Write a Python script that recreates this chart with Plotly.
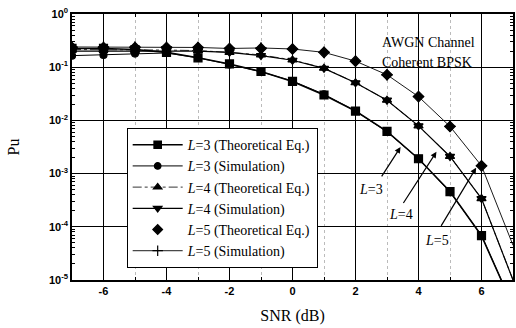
import plotly.graph_objects as go

snr = [-7, -6, -5, -4, -3, -2, -1, 0, 1, 2, 3, 4, 5, 6, 7]

l3_theory = [0.225, 0.225, 0.215, 0.19, 0.15, 0.115, 0.083, 0.054, 0.030, 0.015, 0.0062, 0.0019, 4.6e-4, 6.8e-5, 3.2e-6]
l3_sim    = [0.165, 0.17, 0.18, 0.185, 0.15, 0.113, 0.082, 0.055, 0.031, 0.015, 0.0061, 0.0019, 4.5e-4, 6.9e-5, 3.2e-6]
l4_theory = [0.215, 0.215, 0.21, 0.21, 0.205, 0.19, 0.17, 0.137, 0.096, 0.051, 0.024, 0.0079, 0.0021, 3.4e-4, 1.0e-5]
l4_sim    = [0.2, 0.2, 0.2, 0.205, 0.2, 0.19, 0.165, 0.135, 0.095, 0.051, 0.024, 0.0079, 0.0021, 3.4e-4, 1.0e-5]
l5_theory = [0.235, 0.235, 0.235, 0.235, 0.235, 0.225, 0.225, 0.22, 0.19, 0.13, 0.072, 0.028, 0.0077, 1.4e-3, 4.5e-5]
l5_sim    = [0.24, 0.24, 0.24, 0.24, 0.235, 0.225, 0.23, 0.22, 0.19, 0.13, 0.072, 0.028, 0.0077, 1.4e-3, 4.5e-5]

x_tickvals = [-6, -4, -2, 0, 2, 4, 6]
x_ticktext = ["-6", "-4", "-2", "0", "2", "4", "6"]
y_tickvals = [1, 0.1, 0.01, 1e-3, 1e-4, 1e-5]
y_ticktext = ["10<sup>0</sup>", "10<sup>-1</sup>", "10<sup>-2</sup>", "10<sup>-3</sup>", "10<sup>-4</sup>", "10<sup>-5</sup>"]

names = ["<i>L</i>=3 (Theoretical Eq.)", "<i>L</i>=3 (Simulation)",
         "<i>L</i>=4 (Theoretical Eq.)", "<i>L</i>=4 (Simulation)",
         "<i>L</i>=5 (Theoretical Eq.)", "<i>L</i>=5 (Simulation)"]

fig = go.Figure()
series = [
    (l3_theory, names[0], "lines+markers", "square", 8, 1.6, "solid"),
    (l3_sim, names[1], "lines+markers", "circle", 7, 1.0, "solid"),
    (l4_theory, names[2], "lines+markers", "triangle-up", 8, 0.8, "dashdot"),
    (l4_sim, names[3], "lines+markers", "triangle-down", 8, 1.2, "solid"),
    (l5_theory, names[4], "markers", "diamond", 8, 1.0, "solid"),
    (l5_sim, names[5], "lines+markers", "cross-thin", 8, 0.9, "solid"),
]
for ys, nm, mode, sym, sz, lw, dash in series:
    # the last (edge) point is drawn only as part of the line, like the reference
    sizes = [sz] * (len(snr) - 1) + [0]
    fig.add_trace(go.Scatter(
        x=snr, y=ys, name=nm, mode=mode,
        line=dict(color="black", width=lw, dash=dash),
        marker=dict(symbol=sym, size=sizes, color="black", opacity=1,
                    line=dict(color="black", width=1.2)),
    ))

serif = "Liberation Serif, Times New Roman, serif"
sans = "Liberation Sans, Arial, sans-serif"

fig.update_layout(
    width=516, height=328,
    margin=dict(l=72, r=1, t=14, b=48),
    paper_bgcolor="white", plot_bgcolor="white",
    font=dict(family=sans, size=11, color="black"),
    showlegend=True,
    legend=dict(
        x=0.124, y=0.571, xanchor="left", yanchor="top",
        bgcolor="white", bordercolor="black", borderwidth=1,
        font=dict(family=serif, size=14, color="black"),
        itemwidth=50, tracegroupgap=0,
    ),
    xaxis=dict(
        range=[-7, 7], tickvals=x_tickvals, ticktext=x_ticktext,
        showgrid=True, gridcolor="black", gridwidth=1,
        showline=True, linecolor="black", linewidth=1.5, mirror="allticks",
        ticks="inside", ticklen=5, tickcolor="black",
        zeroline=False, ticklabeloverflow="allow",
        tickfont=dict(family=sans, size=11, color="black", weight="bold"),
        minor=dict(tickvals=[-7, -5, -3, -1, 1, 3, 5, 7], ticks="inside", ticklen=3, tickcolor="black",
                   showgrid=True, gridcolor="#bbb", griddash="dot", gridwidth=1),
        title=dict(text="SNR (dB)", font=dict(family=serif, size=16, color="black"), standoff=14),
    ),
    yaxis=dict(
        type="log", range=[-5, 0], tickvals=y_tickvals, ticktext=y_ticktext,
        showgrid=True, gridcolor="black", gridwidth=1,
        showline=True, linecolor="black", linewidth=1.5, mirror="allticks",
        ticks="inside", ticklen=5, tickcolor="black",
        zeroline=False, ticklabeloverflow="allow",
        tickfont=dict(family=sans, size=11, color="black", weight="bold"),
        minor=dict(dtick="D1", ticks="inside", ticklen=3, tickcolor="black", showgrid=False),
        title=dict(text="Pu", font=dict(family=serif, size=16, color="black"), standoff=25),
    ),
    annotations=[
        dict(x=0.699, y=0.93, xref="paper", yref="paper", text="AWGN Channel",
             showarrow=False, xanchor="left", font=dict(family=serif, size=14, color="black")),
        dict(x=0.699, y=0.853, xref="paper", yref="paper", text="Coherent BPSK",
             showarrow=False, xanchor="left", font=dict(family=serif, size=14, color="black")),
        # labels
        dict(x=2.5, y=-3.3, xref="x", yref="y", text="<i>L</i>=3", showarrow=False,
             font=dict(family=serif, size=14, color="black")),
        dict(x=3.43, y=-3.77, xref="x", yref="y", text="<i>L</i>=4", showarrow=False,
             font=dict(family=serif, size=14, color="black")),
        dict(x=4.58, y=-4.26, xref="x", yref="y", text="<i>L</i>=5", showarrow=False,
             font=dict(family=serif, size=14, color="black")),
        # arrows
        dict(x=3.43, y=-2.5, xref="x", yref="y", axref="x", ayref="y", ax=2.8, ay=-3.08,
             text="", showarrow=True, arrowhead=2, arrowsize=1, arrowwidth=1.2, arrowcolor="black"),
        dict(x=4.57, y=-2.59, xref="x", yref="y", axref="x", ayref="y", ax=3.49, ay=-3.58,
             text="", showarrow=True, arrowhead=2, arrowsize=1, arrowwidth=1.2, arrowcolor="black"),
        dict(x=5.83, y=-2.89, xref="x", yref="y", axref="x", ayref="y", ax=4.69, ay=-4.01,
             text="", showarrow=True, arrowhead=2, arrowsize=1, arrowwidth=1.2, arrowcolor="black"),
    ],
)

fig.write_html("out.html", config={"displayModeBar": False},
               post_script="document.body.style.margin='0px';")
